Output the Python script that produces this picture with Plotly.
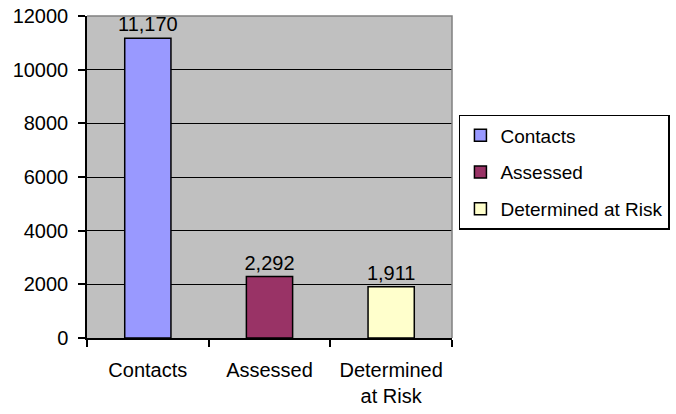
import plotly.graph_objects as go

categories = ["Contacts", "Assessed", "Determined at Risk"]
tick_labels = ["Contacts", "Assessed", "Determined<br>at Risk"]
values = [11170, 2292, 1911]
value_labels = ["11,170", "2,292", "1,911"]
colors = ["#9999FF", "#993366", "#FFFFCC"]

FONT = "Liberation Sans, Arial, sans-serif"
FS = 20

fig = go.Figure()
for i, (cat, tl, v, lab, c) in enumerate(zip(categories, tick_labels, values, value_labels, colors)):
    fig.add_trace(go.Bar(
        x=[tl], y=[v], name=cat, width=0.38,
        marker=dict(color=c, line=dict(color="black", width=1.5)),
        text=[lab], textposition="outside", cliponaxis=False, constraintext="none",
        textfont=dict(family=FONT, size=FS, color="black"),
        legendgroup=f"g{i}",
    ))

fig.update_layout(
    width=676, height=414,
    margin=dict(l=87, r=224, t=16, b=76, autoexpand=False),
    paper_bgcolor="white", plot_bgcolor="#C0C0C0",
    barmode="overlay",
    font=dict(family=FONT, size=FS, color="black"),
    showlegend=True,
    legend=dict(
        x=1.019, xanchor="left", y=0.514, yanchor="middle",
        xref="paper", yref="paper",
        bordercolor="black", borderwidth=1.5, bgcolor="white",
        font=dict(family=FONT, size=19, color="black"),
        tracegroupgap=9, traceorder="grouped", itemwidth=30,
    ),
)
fig.update_xaxes(
    categoryorder="array", categoryarray=tick_labels,
    showline=True, linecolor="black", linewidth=1.5,
    ticks="outside", tickson="boundaries", ticklen=7, tickcolor="black", tickwidth=1.5,
    showgrid=False, ticklabelstandoff=13, automargin=False,
)
fig.update_yaxes(
    range=[0, 12000], dtick=2000, tickformat="d",
    showline=True, linecolor="black", linewidth=1.5,
    ticks="outside", ticklen=7, tickcolor="black", tickwidth=1.5,
    showgrid=True, gridcolor="black", gridwidth=1.2, zeroline=False,
    ticklabelstandoff=6, automargin=False,
)
fig.add_shape(type="path", xref="paper", yref="paper",
              path="M 0,1 L 1,1 L 1,0", line=dict(color="#808080", width=1.5))

fig.write_html("out.html", config={"displayModeBar": False},
               post_script="document.body.style.margin='0';")
